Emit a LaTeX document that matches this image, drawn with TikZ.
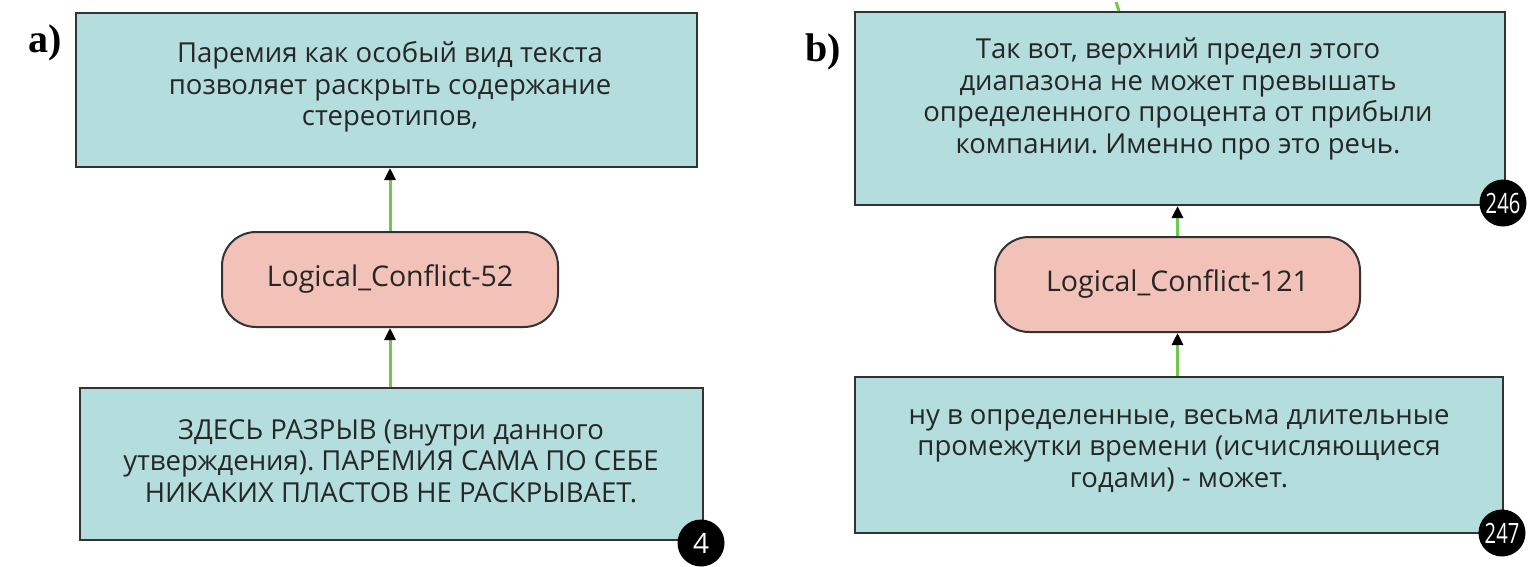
\documentclass[tikz,border=0pt]{standalone}
\usepackage{fontspec}
\setmainfont{Open Sans}
\newfontfamily\labelfont{Liberation Serif}
\usetikzlibrary{arrows.meta}
\frenchspacing
\definecolor{boxfill}{HTML}{B3DEDD}
\definecolor{ovalfill}{HTML}{F2C1B8}
\definecolor{edgegray}{HTML}{333333}
\definecolor{linkgreen}{HTML}{6DC94D}
\tikzset{
  textbox/.style={draw=edgegray, line width=2pt, fill=boxfill, rectangle, inner sep=0pt},
  boxtext/.style={align=center, font=\fontsize{27.5}{31.5}\selectfont, inner sep=0pt, text=black!85},
  conflict/.style={draw=edgegray, line width=2pt, fill=ovalfill, rounded corners=34pt, inner sep=0pt, font=\fontsize{28.5}{30}\selectfont, text=black!85},
  badge/.style={circle, fill=black, minimum size=47pt, inner sep=0pt, text=white, font=\fontsize{28}{28}\selectfont},
  link/.style={draw=linkgreen, line width=3pt, -{Triangle[color=black, fill=black, length=12pt, width=11pt]}},
  panel/.style={font=\labelfont\bfseries\fontsize{40}{40}\selectfont, inner sep=0pt}
}
\begin{document}
\begin{tikzpicture}[x=1pt,y=-1pt]
\useasboundingbox (0,0) rectangle (1537,567);
% panel a
\node[panel] (la) at (45,43) {a)};
\node[textbox, minimum width=621pt, minimum height=154pt] (atop) at (386.5,90) {};
\node[boxtext] (atoptext) at (390,87) {Паремия как особый вид текста\\позволяет раскрыть содержание\\стереотипов,};
\node[conflict, minimum width=336pt, minimum height=95pt] (aconf) at (390,279.5) {Logical\_Conflict-52};
\node[textbox, minimum width=623pt, minimum height=152pt] (abot) at (391.5,464) {};
\node[boxtext] (abottext) at (391,461) {ЗДЕСЬ РАЗРЫВ (внутри данного\\утверждения). ПАРЕМИЯ САМА ПО СЕБЕ\\НИКАКИХ ПЛАСТОВ НЕ РАСКРЫВАЕТ.};
\node[badge] (abadge) at (701,543) {4};
\draw[link] (abot.north -| aconf.south) -- (aconf.south);
\draw[link] (aconf.north) -- (aconf.north |- atop.south);
% panel b
\node[panel] (lb) at (823,52) {b)};
\coordinate (bin) at (1116,2);
\node[textbox, minimum width=650pt, minimum height=193pt] (btop) at (1180,108.5) {};
\draw[linkgreen, line width=3pt] (bin) -- (btop.north -| 1119,0);
\node[boxtext] (btoptext) at (1178,99) {Так вот, верхний предел этого\\диапазона не может превышать\\определенного процента от прибыли\\компании. Именно про это речь.};
\node[badge] (bbadge1) at (1503,203) {\scalebox{0.72}[1]{246}};
\node[conflict, minimum width=365pt, minimum height=95pt] (bconf) at (1177.5,284.5) {Logical\_Conflict-121};
\node[textbox, minimum width=648pt, minimum height=156pt] (bbot) at (1179,455) {};
\node[boxtext] (bbottext) at (1179,451) {ну в определенные, весьма длительные\\промежутки времени (исчисляющиеся\\годами) - может.};
\node[badge] (bbadge2) at (1502,533) {\scalebox{0.72}[1]{247}};
\draw[link] (bbot.north -| bconf.south) -- (bconf.south);
\draw[link] (bconf.north) -- (bconf.north |- btop.south);
\end{tikzpicture}
\end{document}
